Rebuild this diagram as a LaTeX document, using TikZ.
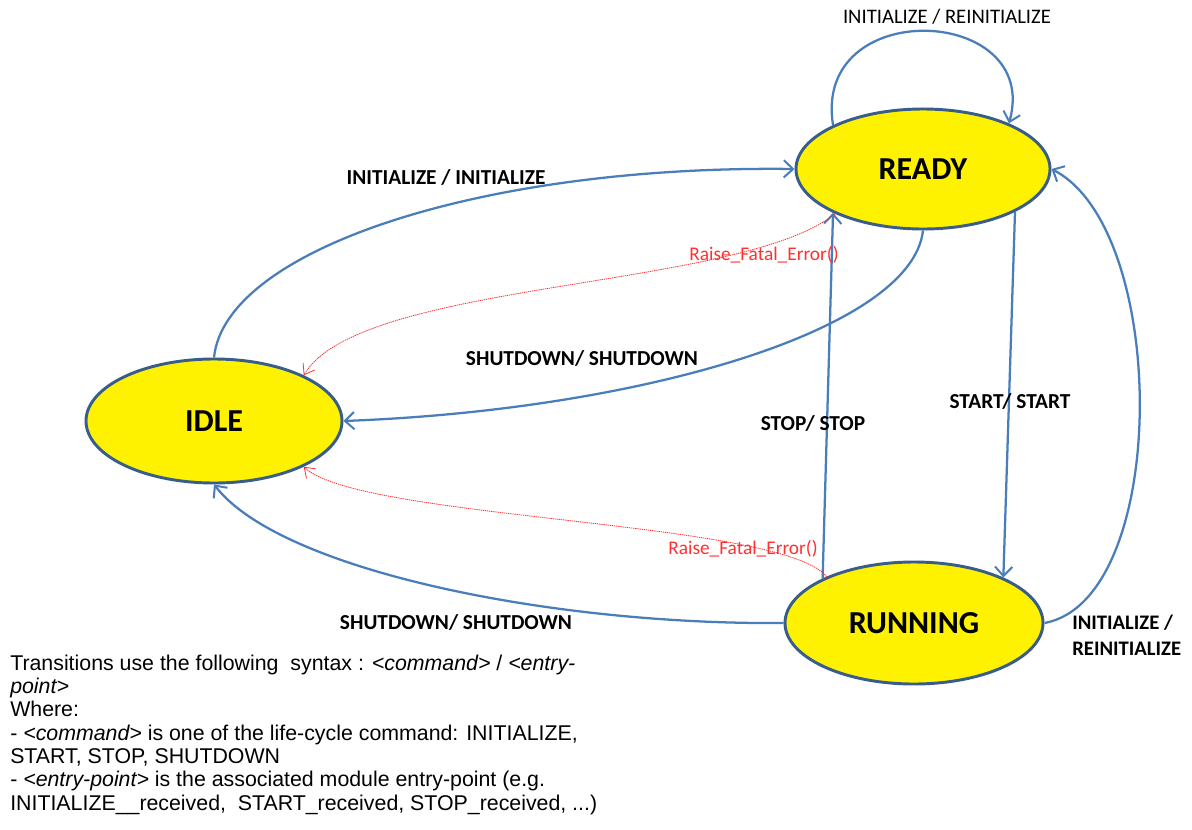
\documentclass[tikz,border=0pt]{standalone}
\usepackage{fontspec}
\setmainfont{Carlito}
\newfontfamily\notefont{Liberation Sans}
\usetikzlibrary{shapes.geometric,arrows.meta}
\definecolor{edgeblue}{HTML}{4A7EBB}
\definecolor{rimblue}{HTML}{385D8A}
\definecolor{errred}{HTML}{FF3030}
\tikzset{
  state/.style={ellipse, draw=rimblue, line width=2.2pt, fill=yellow, inner sep=0pt,
    font=\fontsize{24}{28}\selectfont\bfseries},
  trans/.style={draw=edgeblue, line width=1.7pt,
    -{Straight Barb[length=7pt,width=13pt,line width=1.5pt]}},
  fault/.style={draw=errred, line width=0.6pt, dash pattern=on 1pt off 0.6pt,
    -{Straight Barb[length=7pt,width=10pt,line width=0.6pt]}},
  tlabel/.style={font=\fontsize{16}{18}\selectfont\bfseries, inner sep=0pt},
  plainlabel/.style={font=\fontsize{15.5}{18}\selectfont, inner sep=0pt},
  faultlabel/.style={font=\fontsize{14.5}{17}\selectfont, text=errred, inner sep=0pt, anchor=base},
  noteline/.style={font=\notefont\fontsize{16}{17.5}\selectfont, inner sep=0pt, anchor=base west},
}
\begin{document}
\begin{tikzpicture}[x=0.75pt, y=-0.75pt]
\path[use as bounding box, fill=white] (0,0) rectangle (1192,829);

% states
\node[state, minimum width=190.5pt, minimum height=90pt] (ready) at (923,169) {READY};
\node[state, minimum width=192pt, minimum height=93pt] (idle) at (214,421) {IDLE};
\node[state, minimum width=193.5pt, minimum height=91.5pt] (running) at (914,623) {RUNNING};

% transitions
\draw[trans] (idle.north) .. controls (225,250) and (480,165) .. (ready.west);
\draw[trans] (ready.154) .. controls (812,-5) and (1042,5) .. (ready.28);
\draw[trans] (ready.south) .. controls (912,330) and (640,410) .. (idle.east);
\draw[trans] (running.154) -- (ready.206);
\draw[trans] (ready.335) -- (running.27);
\draw[trans] (running.west) .. controls (550,625) and (280,570) .. (idle.south);
\draw[trans] (running.east) .. controls (1170,600) and (1170,230) .. (ready.east);

% fatal error paths
\draw[fault] (ready.207) .. controls (740,290) and (360,280) .. (idle.27);
\draw[fault] (running.152) .. controls (780,520) and (360,520) .. (idle.333);

% transition labels
\node[plainlabel] (lloop) at (947,17) {INITIALIZE / REINITIALIZE};
\node[tlabel] (linit) at (446,177) {INITIALIZE / INITIALIZE};
\node[tlabel] (lshut1) at (582,358) {SHUTDOWN/ SHUTDOWN};
\node[tlabel] (lstop) at (813,423) {STOP/ STOP};
\node[tlabel] (lstart) at (1010,401) {START/ START};
\node[tlabel] (lshut2) at (456,622) {SHUTDOWN/ SHUTDOWN};
\node[tlabel, align=left, anchor=west, font=\fontsize{15.5}{19.5}\selectfont\bfseries] (lreinit) at (1072,635) {INITIALIZE /\\REINITIALIZE};
\node[faultlabel] (lfault1) at (764,260) {Raise\_Fatal\_Error()};
\node[faultlabel] (lfault2) at (743,554) {Raise\_Fatal\_Error()};

% legend
\node[noteline] (note1) at (10,670) {Transitions use the following \ syntax : \textit{<command>} / \textit{<entry-}};
\node[noteline] (note2) at (10,693.3) {\textit{point>}};
\node[noteline] (note3) at (10,716.6) {Where:};
\node[noteline] (note4) at (10,740) {- \textit{<command>} is one of the life-cycle command: INITIALIZE,};
\node[noteline] (note5) at (10,763.3) {START, STOP, SHUTDOWN};
\node[noteline] (note6) at (10,786.6) {- \textit{<entry-point>} is the associated module entry-point (e.g.};
\node[noteline] (note7) at (10,810) {INITIALIZE\_\_received, \ START\_received, STOP\_received, ...)};
\end{tikzpicture}
\end{document}
